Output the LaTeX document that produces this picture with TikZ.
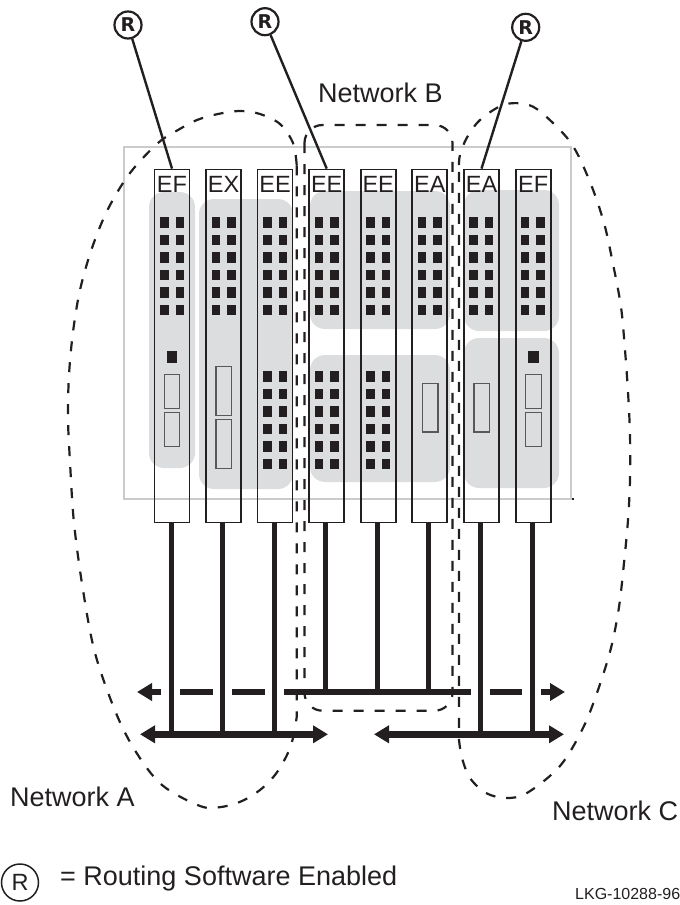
\documentclass[tikz,border=0pt]{standalone}
\usepackage{xcolor}
\usepackage{tikz}
\usepackage{fontspec}
\setmainfont{Liberation Sans}
\newfontfamily\routerfont{DejaVu Sans}
\usetikzlibrary{arrows.meta, positioning, calc}
\definecolor{ink}{HTML}{231F20}
\definecolor{panelgray}{HTML}{DCDDDF}
\definecolor{chassisgray}{HTML}{C9CBCC}
\tikzset{
  modbox/.style={draw=ink, line width=1.8pt, minimum width=35pt, minimum height=353pt, inner sep=0pt},
  modtext/.style={text=ink, font=\fontsize{23.5}{26}\selectfont, inner sep=0pt, anchor=base},
  panel/.style={fill=panelgray, rounded corners=15pt},
  slotbox/.style={draw=ink!75, line width=1.1pt},
  routernode/.style={circle, draw=ink, fill=white, line width=2.2pt, minimum size=27pt, inner sep=0pt, text=ink, font=\routerfont\fontsize{19}{22}\selectfont\bfseries},
  routerline/.style={draw=ink, line width=2.4pt},
  stemline/.style={draw=ink, line width=5pt},
  busline/.style={draw=ink, line width=6.5pt},
  bustip/.style={-{Triangle[length=15pt,width=17pt]}},
  netline/.style={draw=ink, line width=2.2pt, dash pattern=on 10pt off 11pt},
  nettext/.style={text=ink, font=\fontsize{27}{30}\selectfont, inner sep=0pt, anchor=base west}
}

\begin{document}
\begin{tikzpicture}[x=1pt, y=-1pt]
  \useasboundingbox (0,0) rectangle (680,905);

  % Chassis
  \draw[chassisgray, line width=2.5pt] (124,147) rectangle (571,499);
  \fill[ink] (571.5,498) rectangle (574,500);

  % Grey panels
  \fill[panel] (149,192) rectangle (195,468);
  \fill[panel] (199,199) rectangle (293,489);
  \fill[panel] (310,191) rectangle (450,329);
  \fill[panel] (310,355) rectangle (450,482);
  \fill[panel] (464,190) rectangle (559,331);
  \fill[panel] (464,338) rectangle (559,488);

  % Upper ports, all modules
  \foreach \mx in {154,205.5,257,308.5,360,411.5,463,514.5}
    \foreach \r in {0,...,5} {
      \fill[ink] (\mx+6,217+\r*17.5) rectangle ++(8.7,10.7);
      \fill[ink] (\mx+21.5,217+\r*17.5) rectangle ++(8.7,10.7);
    }

  % Lower ports, three modules
  \foreach \mx in {257,308.5,360}
    \foreach \r in {0,...,5} {
      \fill[ink] (\mx+6,371+\r*17.5) rectangle ++(8.7,10.7);
      \fill[ink] (\mx+21.5,371+\r*17.5) rectangle ++(8.7,10.7);
    }

  % Slots
  \foreach \cx in {172,533.3} {
    \fill[ink] (\cx-5.4,351) rectangle ++(10.8,11.7);
    \draw[slotbox] (\cx-7.8,374.3) rectangle ++(15.6,34);
    \draw[slotbox] (\cx-7.8,412.3) rectangle ++(15.6,34);
  }
  \draw[slotbox] (216,366.3) rectangle (231.7,415.3);
  \draw[slotbox] (216,419.3) rectangle (231.7,468.3);
  \draw[slotbox] (422.3,383.3) rectangle (438,432);
  \draw[slotbox] (474,383.3) rectangle (489.7,432);

  % Modules
  \foreach \i/\lab/\cx in {1/EF/172, 2/EX/223.5, 3/EE/275, 4/EE/326.7, 5/EE/378.2, 6/EA/429.8, 7/EA/481.5, 8/EF/533.2} {
    \node[modbox] (m\i) at (\cx,346) {};
    \node[modtext] (t\i) at ([yshift=-24pt]m\i.north) {\lab};
  }

  % Buses
  \coordinate (busAl) at (140,734.3);
  \coordinate (busAr) at (328,734.3);
  \coordinate (busCl) at (374,734.3);
  \coordinate (busCr) at (564,734.3);
  \coordinate (busBl) at (137,692);
  \coordinate (busBr) at (565,692);
  \coordinate (busB1) at (161,692);
  \coordinate (busB2) at (180,692);
  \coordinate (busB3) at (213,692);
  \coordinate (busB4) at (232,692);
  \coordinate (busB5) at (265,692);
  \coordinate (busB6) at (284,692);
  \coordinate (busB7) at (471,692);
  \coordinate (busB8) at (490,692);
  \coordinate (busB9) at (522,692);
  \coordinate (busB10) at (541,692);

  % Stems
  \foreach \i/\b in {1/busAl, 2/busAl, 3/busAl, 4/busBl, 5/busBl, 6/busBl, 7/busCl, 8/busCl} {
    \coordinate (s\i) at ([xshift=-1pt]m\i.south);
    \draw[stemline] (s\i) -- (s\i |- \b);
  }

  \draw[busline, bustip] (busB1) -- (busBl);
  \draw[busline] (busB2) -- (busB3);
  \draw[busline] (busB4) -- (busB5);
  \draw[busline] (busB6) -- (busB7);
  \draw[busline] (busB8) -- (busB9);
  \draw[busline, bustip] (busB10) -- (busBr);
  \draw[busline, {Triangle[length=15pt,width=17pt]}-{Triangle[length=15pt,width=17pt]}] (busAl) -- (busAr);
  \draw[busline, {Triangle[length=15pt,width=17pt]}-{Triangle[length=15pt,width=17pt]}] (busCl) -- (busCr);

  % Network A
  \draw[netline] plot[smooth, tension=0.55] coordinates {
    (296.7,165) (293,143) (280,124) (260,114) (240,111) (218,114) (197,120) (178,130)
    (158,143) (130,173) (108,209) (92,248) (80,290) (73,332) (69,375) (68,418) (70,462)
    (74,523) (83,590) (95,653) (116,713) (136,752) (162,785) (200,806) (221,807)
    (242,801) (260,790) (275,775) (287,755) (293,738) (296.7,717)} -- cycle;

  % Network B
  \draw[netline, rounded corners=18pt] (304.5,125) rectangle (452.5,710.7);

  % Network C
  \draw[netline] plot[smooth, tension=0.55] coordinates {
    (459,165) (460,155) (466.7,138) (480,120) (503,105) (525,104) (542,113) (571,143)
    (590,182) (604,223) (613,264) (621,307) (625,350) (628,392) (630,435) (630,480)
    (628,520) (624,563) (619,607) (611,648) (598,690) (583,728) (560,766) (527,793)
    (506,798) (486,793) (470,778) (462,758) (459,740)} -- cycle;

  % Routers
  \node[routernode] (r1) at (128,25) {R};
  \node[routernode] (r2) at (265,21.7) {R};
  \node[routernode] (r3) at (525.7,27.3) {R};
  \draw[routerline] (r1) -- (m1.north);
  \draw[routerline] (r2) -- (m4.north);
  \draw[routerline] (r3) -- (m7.north);

  % Labels
  \node[nettext] (netB) at (318,102.7) {Network B};
  \node[nettext] (netA) at (10,806.5) {Network A};
  \node[nettext] (netC) at (552,820.5) {Network C};

  % Legend
  \node[circle, draw=ink, line width=1.5pt, minimum size=37pt, inner sep=0pt, text=ink, font=\fontsize{23.5}{26}\selectfont] (legendR) at (20,882.5) {R};
  \node[nettext] (legendText) at (60,885) {= Routing Software Enabled};
  \node[text=ink, font=\fontsize{16}{18}\selectfont, inner sep=0pt, anchor=base west] (figId) at (575,899) {LKG-10288-96};
\end{tikzpicture}
\end{document}
